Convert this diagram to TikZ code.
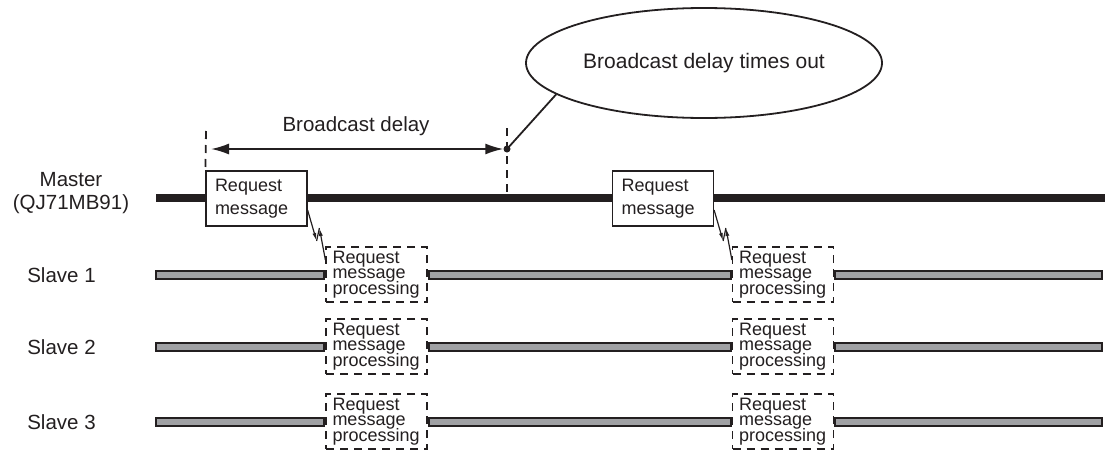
\documentclass[tikz,border=0pt]{standalone}
\usepackage{fontspec}
\setmainfont{Liberation Sans}
\usetikzlibrary{shapes.geometric,arrows.meta,positioning}
\definecolor{ink}{RGB}{35,31,32}
\definecolor{barfill}{RGB}{160,161,164}

\begin{document}
\begin{tikzpicture}[x=1pt, y=-1pt,
    lbl/.style={font=\fontsize{20.5}{23.3}\selectfont, text=ink, align=center, inner sep=0pt},
    msg/.style={rectangle, draw=ink, fill=white, line width=1.2pt, minimum width=101pt, minimum height=55pt, inner xsep=9pt, inner ysep=0pt, text width=83pt, align=left, text=ink, font=\fontsize{18}{22.7}\selectfont},
    proc/.style={rectangle, draw=ink, fill=white, line width=1.2pt, dash pattern=on 8pt off 6pt, minimum width=101pt, minimum height=55pt, inner xsep=6.5pt, inner ysep=0pt, text width=88pt, align=left, text=ink, font=\fontsize{18}{15.5}\selectfont\setlength{\lineskiplimit}{-8pt}},
    masterbar/.style={line width=8pt, draw=ink},
    slavebar/.style={line width=10pt, draw=ink, postaction={draw=barfill, line width=6pt, shorten <=2pt, shorten >=2pt}},
    tick/.style={line width=1.8pt, draw=ink, dash pattern=on 8pt off 6pt},
    dimarr/.style={{Latex[length=18pt,width=11pt]}-{Latex[length=18pt,width=11pt]}, line width=1.8pt, draw=ink},
    bolt/.style={line width=1.2pt, draw=ink},
    boltarr/.style={bolt, -{Latex[length=8pt,width=4pt]}},
]
\useasboundingbox (0,0) rectangle (1105,450);

% === Callout ===
\node[ellipse, draw=ink, line width=1.8pt, minimum width=356pt, minimum height=110pt, inner sep=0pt, text=ink, font=\fontsize{21}{25}\selectfont] (tout) at (704,63) {Broadcast delay times out};

% === Master ===
\node[lbl] (mlbl) at (71,193) {Master\\(QJ71MB91)};
\coordinate (mstart) at (156,197.5);
\coordinate (mend) at (1105,197.5);
\draw[masterbar] (mstart) -- (mend);
\node[msg] (mreq1) at (256.5,198.5) {Request\\message};
\node[msg] (mreq2) at (663,198.5) {Request\\message};

% Broadcast delay
\node[lbl, anchor=base] (dlbl) at (356,131) {Broadcast delay};
\coordinate (d1t) at (206,131);
\coordinate (d2t) at (507,128);
\draw[tick] (d1t) -- (mreq1.north west);
\draw[tick] (d2t) -- (d2t |- mstart);
\node[circle, fill=ink, inner sep=0pt, minimum size=7pt] (tdot) at (507,149) {};
\coordinate (astart) at (211,149);
\draw[dimarr] (astart) -- (tdot.west);
\draw[line width=1.8pt, draw=ink] (tdot.center) -- (tout.192);

% === Slaves ===
\foreach \r/\y in {1/274.5, 2/346.5, 3/421.5}{
  \node[lbl] (sl\r) at (61.5,\y+1) {Slave \r};
  \node[proc] (pa\r) at (376.5,\y) {Request\\message\\processing};
  \node[proc] (pb\r) at (783,\y) {Request\\message\\processing};
  \coordinate (ss\r) at (155,\y);
  \coordinate (se\r) at (1103,\y);
  \draw[slavebar] (ss\r) -- (pa\r.west);
  \draw[slavebar] (pa\r.east) -- (pb\r.west);
  \draw[slavebar] (pb\r.east) -- (se\r);
}

% Transmission bolts
\foreach \m/\p in {mreq1/pa1, mreq2/pb1}{
  \coordinate (bs) at ([yshift=-11.5pt]\m.east);
  \coordinate (be) at ([yshift=14.5pt]\p.west);
  \draw[boltarr] (bs) -- ++(9,31) coordinate (bp);
  \draw[boltarr] (be) -- ++(-6,-32) coordinate (bq);
  \draw[bolt] (bp) -- (bq);
}

\end{tikzpicture}
\end{document}
